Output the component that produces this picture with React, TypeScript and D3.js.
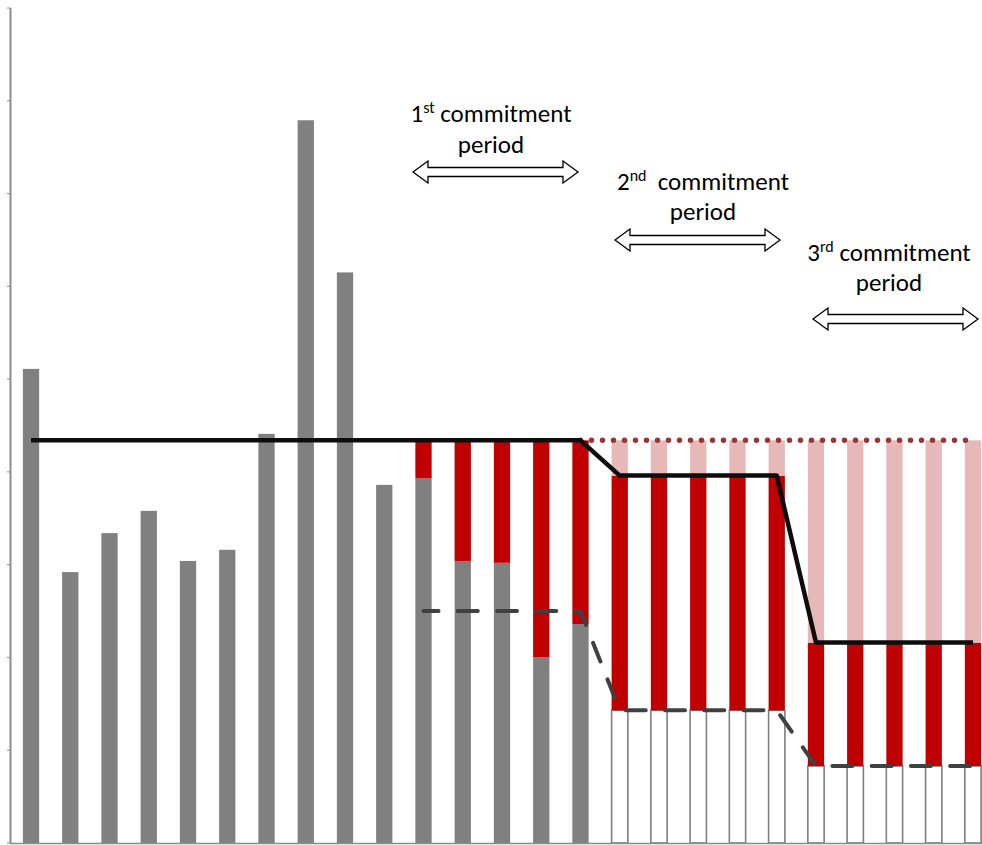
import React from "react";
import * as d3 from "d3";

// ---- data ----
const categories = Array.from({ length: 25 }, (_, i) => `P${i + 1}`);
// historical emissions (grey)
const actual = [5.11, 2.92, 3.34, 3.58, 3.04, 3.16, 4.41, 7.79, 6.15, 3.86, 3.93, 3.04, 3.02, 2.0, 2.36, 0, 0, 0, 0, 0, 0, 0, 0, 0, 0];
// projected remaining emissions (white, outlined)
const remaining = [0, 0, 0, 0, 0, 0, 0, 0, 0, 0, 0, 0, 0, 0, 0, 1.43, 1.43, 1.43, 1.43, 1.43, 0.83, 0.83, 0.83, 0.83, 0.83];
// reductions / credits (red)
const reduction = [0, 0, 0, 0, 0, 0, 0, 0, 0, 0, 0.41, 1.3, 1.32, 2.34, 1.98, 2.53, 2.53, 2.53, 2.53, 2.53, 1.33, 1.33, 1.33, 1.33, 1.33];
// cut vs. original cap (pink)
const capCut = [0, 0, 0, 0, 0, 0, 0, 0, 0, 0, 0, 0, 0, 0, 0, 0.38, 0.38, 0.38, 0.38, 0.38, 2.18, 2.18, 2.18, 2.18, 2.18];
// cap line (solid black)
const capLine = [4.34, 4.34, 4.34, 4.34, 4.34, 4.34, 4.34, 4.34, 4.34, 4.34, 4.34, 4.34, 4.34, 4.34, 4.34, 3.96, 3.96, 3.96, 3.96, 3.96, 2.16, 2.16, 2.16, 2.16, 2.16];
// domestic target line (dashed), from P11
const targetLine: (number | null)[] = [null, null, null, null, null, null, null, null, null, null, 2.5, 2.5, 2.5, 2.5, 2.5, 1.43, 1.43, 1.43, 1.43, 1.43, 0.83, 0.83, 0.83, 0.83, 0.83];
// original cap continued (dotted), from P15
const originalCap: (number | null)[] = [null, null, null, null, null, null, null, null, null, null, null, null, null, null, 4.34, 4.34, 4.34, 4.34, 4.34, 4.34, 4.34, 4.34, 4.34, 4.34, 4.34];
const yTicks = [0, 1, 2, 3, 4, 5, 6, 7, 8, 9];

const periods = [
  { num: "1", sup: "st", from: 10, to: 14 },
  { num: "2", sup: "nd", from: 15, to: 19 },
  { num: "3", sup: "rd", from: 20, to: 24 },
];

const W = 982;
const H = 845;

export default function App() {
  const x = d3.scaleBand<string>().domain(categories).range([11.4, 992.6]).paddingInner(0.585).paddingOuter(0.2925);
  const y = d3.scaleLinear().domain([0, 9]).range([843, 8]);
  const bw = x.bandwidth();
  const cx = (i: number) => (x(categories[i]) as number) + bw / 2;

  const rows = categories.map((c, i) => ({
    cat: c,
    actual: actual[i],
    remaining: remaining[i],
    reduction: reduction[i],
    capCut: capCut[i],
  }));
  const keys = ["actual", "remaining", "reduction", "capCut"];
  const stack = d3.stack<any>().keys(keys)(rows);
  const styles: Record<string, { fill: string; stroke: string; sw: number }> = {
    actual: { fill: "#808080", stroke: "none", sw: 0 },
    remaining: { fill: "#ffffff", stroke: "#7f7f7f", sw: 1.6 },
    reduction: { fill: "#c00000", stroke: "none", sw: 0 },
    capCut: { fill: "#e6b9b8", stroke: "none", sw: 0 },
  };

  const line = d3
    .line<number | null>()
    .defined((d) => d !== null)
    .x((_, i) => cx(i))
    .y((d) => y(d as number));

  const arrowPath = (x0: number, x1: number, yc: number) => {
    const hh = 11; // half head height
    const sh = 4.5; // half shaft height
    const hl = 15; // head length
    return `M${x0},${yc} L${x0 + hl},${yc - hh} L${x0 + hl},${yc - sh} L${x1 - hl},${yc - sh} L${x1 - hl},${yc - hh} L${x1},${yc} L${x1 - hl},${yc + hh} L${x1 - hl},${yc + sh} L${x0 + hl},${yc + sh} L${x0 + hl},${yc + hh} Z`;
  };

  const annoPos = [
    { tx: 491, ty1: 122, ty2: 153, ax0: 413, ax1: 578, ay: 172 },
    { tx: 703, ty1: 190, ty2: 220, ax0: 615, ax1: 780, ay: 240 },
    { tx: 889, ty1: 261, ty2: 291, ax0: 813, ax1: 978, ay: 319 },
  ];

  return (
    <svg width={W} height={H} style={{ position: "absolute", left: 0, top: 0, background: "#fff" }} fontFamily="Carlito, Lato, 'Open Sans', sans-serif">
      {/* bars */}
      {stack.map((layer) => (
        <g key={layer.key}>
          {layer.map((d, i) => {
            const h = y(d[0]) - y(d[1]);
            if (h <= 0.01) return null;
            const s = styles[layer.key];
            return (
              <rect
                key={i}
                x={x(categories[i]) as number}
                y={y(d[1])}
                width={bw}
                height={h}
                fill={s.fill}
                stroke={s.stroke}
                strokeWidth={s.sw}
              />
            );
          })}
        </g>
      ))}
      {/* axes */}
      <line x1={10.5} x2={10.5} y1={y(9)} y2={y(0)} stroke="#8c8c8c" strokeWidth={2} />
      {yTicks.map((t) => (
        <line key={t} x1={7} x2={10.5} y1={y(t)} y2={y(t)} stroke="#8c8c8c" strokeWidth={1} />
      ))}
      <line x1={10} x2={W} y1={y(0) + 0.5} y2={y(0) + 0.5} stroke="#8c8c8c" strokeWidth={1.5} />

      {/* lines */}
      <path d={line(originalCap) || ""} fill="none" stroke="#953735" strokeWidth={5.5} strokeLinecap="round" strokeDasharray="0 11" />
      <path d={line(targetLine) || ""} fill="none" stroke="#404040" strokeWidth={4} strokeLinecap="round" strokeDasharray="20 19.25" strokeDashoffset={5} />
      <path d={line(capLine) || ""} fill="none" stroke="#0d0d0d" strokeWidth={4.5} strokeLinejoin="round" />

      {/* annotations */}
      {periods.map((p, k) => {
        const a = annoPos[k];
        return (
          <g key={k}>
            <text x={a.tx} y={a.ty1} textAnchor="middle" fontSize={25} fill="#000">
              {p.num}
              <tspan fontSize={16} dy={-9}>{p.sup}</tspan>
              <tspan dy={9}>{k === 1 ? "\u00a0 commitment" : " commitment"}</tspan>
            </text>
            <text x={a.tx} y={a.ty2} textAnchor="middle" fontSize={25} fill="#000">
              period
            </text>
            <path d={arrowPath(a.ax0, a.ax1, a.ay)} fill="#fff" stroke="#000" strokeWidth={1.3} />
          </g>
        );
      })}
    </svg>
  );
}
